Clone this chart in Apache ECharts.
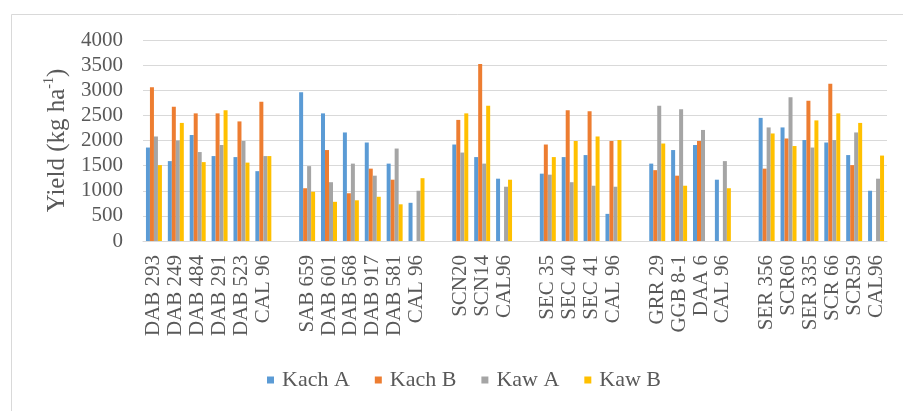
<!DOCTYPE html>
<html>
<head>
<meta charset="utf-8">
<script src="https://cdn.jsdelivr.net/npm/echarts@6/dist/echarts.min.js"></script>
<style>
  html, body { margin: 0; padding: 0; background: #fff; }
  #chart { width: 903px; height: 411px; }
</style>
</head>
<body>
<div id="chart"></div>
<script>
// Cultivar groups, separated by an empty slot
const categories = [
  'DAB 293', 'DAB 249', 'DAB 484', 'DAB 291', 'DAB 523', 'CAL 96', '',
  'SAB 659', 'DAB 601', 'DAB 568', 'DAB 917', 'DAB 581', 'CAL 96', '',
  'SCN20', 'SCN14', 'CAL96', '',
  'SEC 35', 'SEC 40', 'SEC 41', 'CAL 96', '',
  'GRR 29', 'GGB 8-1', 'DAA 6', 'CAL 96', '',
  'SER 356', 'SCR60', 'SER 335', 'SCR 66', 'SCR59', 'CAL96'
];

// Yield (kg/ha) per site
const kachA = [1860, 1590, 2110, 1690, 1670, 1390, null,
  2960, 2540, 2160, 1960, 1540, 760, null,
  1920, 1670, 1240, null,
  1340, 1670, 1710, 540, null,
  1540, 1810, 1910, 1220, null,
  2450, 2260, 2010, 1960, 1710, 1000];
const kachB = [3060, 2670, 2540, 2540, 2380, 2770, null,
  1050, 1810, 950, 1440, 1220, null, null,
  2410, 3520, null, null,
  1920, 2600, 2580, 1990, null,
  1410, 1300, 1990, null, null,
  1440, 2040, 2790, 3130, 1510, null];
const kawA = [2080, 2000, 1770, 1910, 1990, 1690, null,
  1490, 1170, 1540, 1300, 1840, 1000, null,
  1760, 1540, 1080, null,
  1320, 1170, 1100, 1080, null,
  2690, 2620, 2210, 1590, null,
  2260, 2860, 1860, 2010, 2160, 1240];
const kawB = [1510, 2350, 1570, 2600, 1560, 1690, null,
  980, 780, 810, 880, 730, 1250, null,
  2540, 2690, 1220, null,
  1670, 1990, 2080, 2010, null,
  1940, 1100, null, 1050, null,
  2140, 1890, 2400, 2540, 2350, 1700];

const seriesNames = ['Kach A', 'Kach B', 'Kaw A', 'Kaw B'];
const seriesData = [kachA, kachB, kawA, kawB];
const colors = ['#5B9BD5', '#ED7D31', '#A5A5A5', '#FFC000'];

const serif = "'Liberation Serif', 'Times New Roman', serif";
const textColor = '#595959';

const chart = echarts.init(document.getElementById('chart'), null, { renderer: 'canvas' });

chart.setOption({
  animation: false,
  backgroundColor: '#fff',
  color: colors,
  graphic: [{
    type: 'rect',
    left: 9, top: 12,
    shape: { width: 910, height: 420 },
    style: { fill: 'none', stroke: '#D9D9D9', lineWidth: 1 },
    silent: true, z: -1
  }],
  grid: { left: 143, right: 16, top: 40, bottom: 170, containLabel: false },
  legend: {
    data: seriesNames,
    left: 267,
    top: 369,
    padding: 0,
    itemWidth: 7,
    itemHeight: 7,
    itemGap: 25,
    icon: 'rect',
    textStyle: { fontFamily: serif, fontSize: 22, color: textColor, padding: [0, 0, 0, 3] }
  },
  xAxis: {
    type: 'category',
    data: categories,
    axisLine: { lineStyle: { color: '#D9D9D9', width: 1 } },
    axisTick: { show: false },
    axisLabel: {
      interval: 0,
      rotate: 90,
      margin: 14,
      fontFamily: serif,
      fontSize: 21,
      color: textColor
    }
  },
  yAxis: {
    type: 'value',
    min: 0,
    max: 4000,
    interval: 500,
    name: '{t|Yield (kg ha}{s|-1}{t|)}',
    nameLocation: 'middle',
    nameGap: 66,
    nameRotate: 90,
    nameTextStyle: {
      rich: {
        t: { fontFamily: serif, fontSize: 25, color: textColor, lineHeight: 30 },
        s: { fontFamily: serif, fontSize: 14, color: textColor, lineHeight: 30, verticalAlign: 'top', padding: [0, 0, 8, 0] }
      }
    },
    axisLine: { show: false },
    axisTick: { show: false },
    splitLine: { lineStyle: { color: '#D9D9D9', width: 1 } },
    axisLabel: {
      margin: 20,
      fontFamily: serif,
      fontSize: 21,
      color: textColor,
      formatter: (v) => String(v)
    }
  },
  series: seriesNames.map((name, i) => ({
    name,
    type: 'bar',
    data: seriesData[i],
    barGap: '0%',
    barCategoryGap: '27%',
    itemStyle: { color: colors[i] }
  }))
});
</script>
</body>
</html>
